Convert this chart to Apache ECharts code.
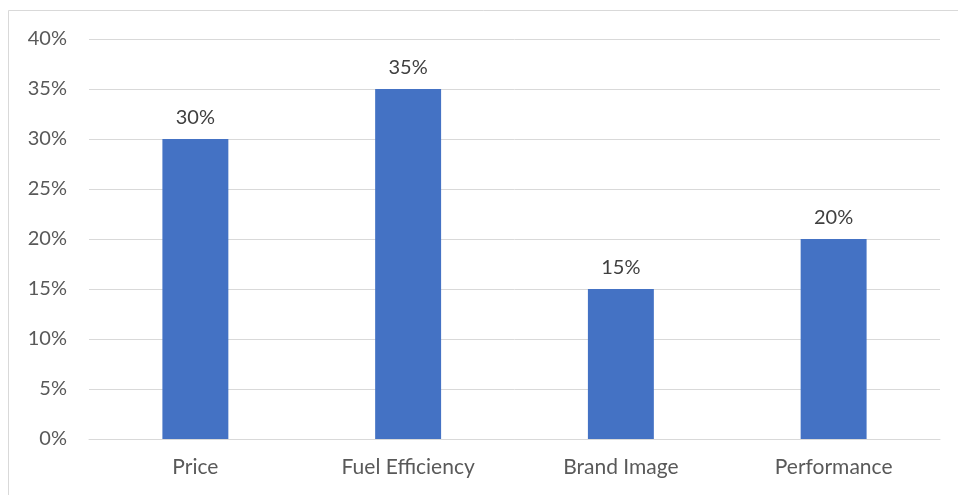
<!DOCTYPE html>
<html>
<head>
<meta charset="utf-8">
<script src="https://cdn.jsdelivr.net/npm/echarts@6/dist/echarts.min.js"></script>
<style>
  html, body { margin: 0; padding: 0; background: #fff; }
  #chart { width: 958px; height: 495px; }
</style>
</head>
<body>
<div id="chart"></div>
<script>
// Share of buyers naming each factor as most important
const categories = ['Price', 'Fuel Efficiency', 'Brand Image', 'Performance'];
const shares = [30, 35, 15, 20];

const FONT = 'Lato, "Open Sans", sans-serif';
const TEXT = '#595959';

const chart = echarts.init(document.getElementById('chart'), null, { renderer: 'canvas' });
chart.setOption({
  animation: false,
  backgroundColor: '#ffffff',
  graphic: [{
    type: 'rect',
    shape: { x: 8.5, y: 10.5, width: 1000, height: 600 },
    style: { fill: 'none', stroke: '#d9d9d9', lineWidth: 1 },
    silent: true
  }],
  grid: { left: 89, right: 18, top: 39, bottom: 56 },
  xAxis: {
    type: 'category',
    data: categories,
    axisLine: { show: true, lineStyle: { color: '#d9d9d9', width: 1 } },
    axisTick: { show: false },
    axisLabel: { color: TEXT, fontFamily: FONT, fontSize: 21, margin: 18 }
  },
  yAxis: {
    type: 'value',
    min: 0,
    max: 40,
    interval: 5,
    axisLine: { show: false },
    axisTick: { show: false },
    splitLine: { lineStyle: { color: '#d9d9d9', width: 1 } },
    axisLabel: { color: TEXT, fontFamily: FONT, fontSize: 20, margin: 22, formatter: '{value}%' }
  },
  series: [{
    type: 'bar',
    data: shares,
    barWidth: '31%',
    itemStyle: { color: '#4472C4' },
    label: {
      show: true,
      position: 'top',
      distance: 11,
      color: '#404040',
      fontFamily: FONT,
      fontSize: 20,
      formatter: '{c}%'
    }
  }]
});
</script>
</body>
</html>
